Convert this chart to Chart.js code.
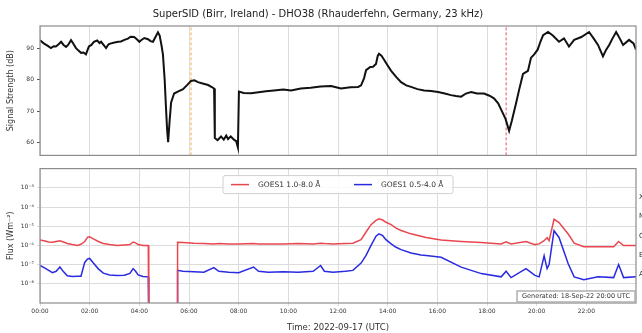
<!DOCTYPE html>
<html lang="en">
<head>
  <meta charset="UTF-8">
  <title>SuperSID Birr - DHO38</title>
  <script src="https://cdn.jsdelivr.net/npm/chart.js"></script>
  <style>
    body { margin: 0; background: #fff; }
    #wrap { position: relative; width: 642px; height: 333px; overflow: hidden; }
    canvas { position: absolute; left: 0; }
  </style>
</head>
<body>
  <div id="wrap">
    <canvas id="sid" width="642" height="162" style="top:0"></canvas>
    <canvas id="goes" width="642" height="171" style="top:162px"></canvas>
  </div>

  <script>
    // signal strength (hours UTC, dB)
    const sidHours = [0.00,0.15,0.30,0.44,0.55,0.64,0.75,0.85,0.95,1.05,1.13,1.25,1.35,1.45,1.55,1.65,1.75,1.85,1.92,1.97,
      2.07,2.17,2.30,2.40,2.46,2.56,2.66,2.76,2.86,3.00,3.15,3.26,3.40,3.54,3.65,3.79,3.90,4.00,4.07,4.20,
      4.35,4.45,4.55,4.65,4.75,4.82,4.90,4.95,5.02,5.07,5.12,5.16,5.22,5.28,5.40,5.55,5.76,5.95,6.08,6.22,
      6.36,6.55,6.77,6.92,7.01,7.04,7.15,7.29,7.40,7.50,7.57,7.68,7.81,7.90,7.97,8.01,8.20,8.50,8.80,9.10,
      9.42,9.80,10.11,10.50,10.90,11.30,11.72,12.12,12.50,12.81,12.93,13.05,13.13,13.30,13.41,13.53,13.60,13.65,13.75,13.85,
      14.00,14.14,14.35,14.54,14.75,14.94,15.20,15.47,15.75,16.03,16.30,16.55,16.75,16.96,17.15,17.36,17.60,17.88,18.10,18.28,
      18.45,18.57,18.75,18.89,19.00,19.17,19.30,19.45,19.65,19.77,19.90,20.04,20.15,20.26,20.46,20.65,20.90,21.10,21.30,21.51,
      21.80,22.11,22.30,22.47,22.67,22.80,22.92,23.05,23.20,23.35,23.48,23.72,23.90,24.00];
    const sidSignal = [92.5,91.5,90.8,90.0,90.6,90.5,91.2,92.0,91.0,90.4,91.0,92.5,91.3,90.0,89.2,88.5,88.6,88.0,89.5,90.5,
      91.0,92.0,92.4,91.6,92.0,91.0,90.0,91.2,91.5,91.8,92.0,92.1,92.6,93.0,93.6,93.5,92.8,92.0,92.5,93.2,
      92.8,92.2,92.0,93.5,95.0,94.0,90.5,88.0,80.0,71.6,64.0,60.2,67.0,72.8,75.6,76.2,77.0,78.5,79.6,79.8,
      79.2,78.8,78.3,77.6,77.2,61.5,60.8,62.0,61.0,62.3,61.2,62.0,61.0,60.5,58.5,76.2,75.8,75.7,76.0,76.3,
      76.6,76.9,76.6,77.2,77.4,77.8,78.0,77.2,77.6,77.7,78.2,80.5,83.0,84.0,84.1,85.0,87.5,88.2,87.6,86.4,
      84.5,82.8,80.8,79.2,78.2,77.7,77.0,76.6,76.4,76.1,75.6,75.1,74.8,74.6,75.6,76.1,75.6,75.6,74.9,74.1,
      72.5,70.5,67.5,63.8,67.0,72.5,77.0,81.8,82.8,86.9,88.0,89.5,92.0,94.1,95.1,94.0,92.0,93.1,90.5,92.6,
      93.5,95.1,93.0,91.0,87.4,89.5,91.0,93.0,95.1,93.0,91.0,92.6,91.5,89.5];
    // sunrise / sunset markers (hours UTC)
    const markerHours = [6.08, 18.77];

    // GOES X-ray flux (hours UTC, W/m^2); null = data gap
    const goesHours = [0.00,0.20,0.35,0.50,0.65,0.80,0.95,1.10,1.30,1.50,1.65,1.80,1.92,2.00,2.15,2.35,2.55,2.80,3.10,3.40,
      3.62,3.75,3.85,3.95,4.15,4.36,4.38,4.40,5.50,5.52,5.54,5.75,6.20,6.60,7.00,7.20,7.60,8.00,8.60,8.80,
      9.20,9.80,10.40,11.00,11.30,11.45,11.80,12.30,12.60,12.93,13.13,13.33,13.53,13.65,13.80,13.93,14.14,14.34,14.54,14.94,
      15.34,15.55,16.15,16.96,17.77,18.57,18.77,18.97,19.57,19.93,20.10,20.30,20.42,20.50,20.70,20.90,21.27,21.51,21.90,22.47,
      23.10,23.30,23.50,24.00];
    const goesLong = [1.9e-6,1.7e-6,1.5e-6,1.45e-6,1.6e-6,1.75e-6,1.5e-6,1.25e-6,1.1e-6,1.0e-6,1.15e-6,1.6e-6,2.7e-6,2.8e-6,2.2e-6,1.6e-6,1.25e-6,1.1e-6,1.0e-6,1.05e-6,
      1.1e-6,1.5e-6,1.35e-6,1.1e-6,1.0e-6,1.0e-6,1e-10,null,null,1e-10,1.45e-6,1.4e-6,1.3e-6,1.25e-6,1.2e-6,1.25e-6,1.2e-6,1.2e-6,1.25e-6,1.2e-6,
      1.2e-6,1.2e-6,1.25e-6,1.2e-6,1.3e-6,1.25e-6,1.2e-6,1.25e-6,1.3e-6,2.0e-6,5.0e-6,1.2e-5,2.0e-5,2.4e-5,2.1e-5,1.6e-5,1.2e-5,8.0e-6,6.0e-6,4.0e-6,
      3.0e-6,2.6e-6,1.9e-6,1.6e-6,1.4e-6,1.2e-6,1.55e-6,1.2e-6,1.6e-6,1.1e-6,1.2e-6,1.75e-6,2.5e-6,1.75e-6,2.3e-5,1.55e-5,3.9e-6,1.3e-6,8.5e-7,8.5e-7,
      8.5e-7,1.6e-6,9.8e-7,9.8e-7];
    const goesShort = [9.0e-8,6.5e-8,5.0e-8,3.8e-8,4.5e-8,7.5e-8,4.2e-8,2.6e-8,2.4e-8,2.45e-8,2.5e-8,1.3e-7,2.0e-7,2.1e-7,1.2e-7,6.0e-8,3.6e-8,2.9e-8,2.7e-8,2.8e-8,
      3.5e-8,6.2e-8,4.5e-8,2.9e-8,2.4e-8,2.3e-8,1e-10,null,null,1e-10,5.0e-8,4.5e-8,4.2e-8,4.0e-8,7.0e-8,4.5e-8,4.0e-8,3.8e-8,7.5e-8,4.5e-8,
      4.0e-8,4.2e-8,4.0e-8,4.5e-8,9.0e-8,4.5e-8,4.0e-8,4.5e-8,5.0e-8,1.2e-7,3.0e-7,1.0e-6,3.0e-6,4.0e-6,3.2e-6,2.0e-6,1.2e-6,8.0e-7,6.0e-7,4.0e-7,
      3.2e-7,3.0e-7,2.4e-7,7.4e-8,3.4e-8,2.3e-8,4.5e-8,2.1e-8,6.2e-8,2.75e-8,2.3e-8,2.9e-7,6.2e-8,1.0e-7,5.8e-6,2.6e-6,1.1e-7,2.3e-8,1.65e-8,2.3e-8,
      2.1e-8,1.0e-7,2.1e-8,2.3e-8];

    // axis ticks
    const hourTicks = [0, 2, 4, 6, 8, 10, 12, 14, 16, 18, 20, 22];
    const dbTicks = [60, 70, 80, 90];
    const fluxTicks = [1e-3, 1e-4, 1e-5, 1e-6, 1e-7, 1e-8];
    // flare classes, written half a decade above each class floor
    const classLetters = ['X', 'M', 'C', 'B', 'A'];
    const classLevels = [3.16e-4, 3.16e-5, 3.16e-6, 3.16e-7, 3.16e-8];

    const FONT = 'DejaVu Sans';
    const TEXT = '#333';

    const toXY = (xs, ys) => xs.map((x, i) => ({ x: x, y: ys[i] }));
    const hourLabel = v => String(v).padStart(2, '0') + ':00';
    const sup = { '-': '⁻', '0': '⁰', '1': '¹', '2': '²', '3': '³', '4': '⁴', '5': '⁵', '6': '⁶', '7': '⁷', '8': '⁸', '9': '⁹' };
    const powLabel = v => '10' + String(Math.round(Math.log10(v))).split('').map(c => sup[c]).join('');

    // frame around the plot area, like matplotlib spines
    const frame = {
      id: 'frame',
      afterDraw(chart) {
        const a = chart.chartArea, ctx = chart.ctx;
        ctx.save();
        ctx.strokeStyle = '#8c8c8c';
        ctx.lineWidth = 1.2;
        ctx.strokeRect(a.left, a.top, a.right - a.left, a.bottom - a.top);
        ctx.restore();
      }
    };

    // top panel: signal strength
    new Chart(document.getElementById('sid'), {
      type: 'line',
      data: {
        datasets: [
          { data: toXY(sidHours, sidSignal), borderColor: '#111', borderWidth: 2, pointRadius: 0 },
          { data: [{ x: markerHours[0], y: 56 }, { x: markerHours[0], y: 97 }], borderColor: '#f3b04a', borderWidth: 1, borderDash: [3, 2], pointRadius: 0 },
          { data: [{ x: markerHours[1], y: 56 }, { x: markerHours[1], y: 97 }], borderColor: '#e8505a', borderWidth: 1, borderDash: [3, 2], pointRadius: 0 }
        ]
      },
      options: {
        responsive: false,
        animation: false,
        layout: { padding: { left: 0, right: 6, top: 0, bottom: 0 } },
        plugins: {
          legend: { display: false },
          tooltip: { enabled: false },
          title: {
            display: true,
            text: 'SuperSID (Birr, Ireland) - DHO38 (Rhauderfehn, Germany, 23 kHz)',
            color: '#222',
            font: { family: FONT, size: 10, weight: 'normal' },
            padding: { top: 8, bottom: 6 }
          }
        },
        scales: {
          x: {
            type: 'linear', min: 0, max: 24,
            afterBuildTicks: s => { s.ticks = hourTicks.map(v => ({ value: v })); },
            afterFit: s => { s.height = 4; },
            ticks: { display: false },
            grid: { color: '#dcdcdc', drawTicks: false },
            border: { display: false }
          },
          y: {
            min: 56, max: 97,
            afterBuildTicks: s => { s.ticks = dbTicks.map(v => ({ value: v })); },
            afterFit: s => { s.width = 40; },
            ticks: { color: TEXT, font: { family: FONT, size: 6 }, padding: 3 },
            grid: { drawOnChartArea: false, tickLength: 3, color: '#555' },
            border: { display: false },
            title: { display: true, text: 'Signal Strength (dB)', color: TEXT, font: { family: FONT, size: 8 }, padding: { top: 6, bottom: 2 } }
          }
        }
      },
      plugins: [frame]
    });

    // legend box, class letters and stamp for the flux panel
    const goesDecor = {
      id: 'goesDecor',
      afterDraw(chart) {
        const a = chart.chartArea, ctx = chart.ctx, y = chart.scales.y;
        ctx.save();
        // legend
        const cx = (a.left + a.right) / 2, top = a.top + 7, h = 18, w = 230;
        ctx.fillStyle = 'rgba(255,255,255,0.85)';
        ctx.strokeStyle = '#d0d0d0';
        ctx.lineWidth = 1;
        ctx.beginPath();
        ctx.roundRect(cx - w / 2, top, w, h, 2);
        ctx.fill();
        ctx.stroke();
        ctx.font = '7.5px "' + FONT + '"';
        ctx.textBaseline = 'middle';
        const ly = top + h / 2;
        let lx = cx - w / 2 + 8;
        chart.data.datasets.forEach(ds => {
          ctx.strokeStyle = ds.borderColor;
          ctx.lineWidth = 1.5;
          ctx.beginPath();
          ctx.moveTo(lx, ly);
          ctx.lineTo(lx + 18, ly);
          ctx.stroke();
          ctx.fillStyle = TEXT;
          ctx.fillText(ds.label, lx + 27, ly);
          lx += 123;
        });
        // flare class letters at the right edge
        ctx.font = '7px "' + FONT + '"';
        ctx.fillStyle = TEXT;
        classLetters.forEach((c, i) => ctx.fillText(c, a.right + 3, y.getPixelForValue(classLevels[i])));
        // generated stamp
        ctx.font = '6.5px "' + FONT + '"';
        const stamp = 'Generated: 18-Sep-22 20:00 UTC';
        const sw = ctx.measureText(stamp).width + 10;
        ctx.fillStyle = '#fff';
        ctx.strokeStyle = '#b0b0b0';
        ctx.fillRect(a.right - sw - 1, a.bottom - 12, sw, 11);
        ctx.strokeRect(a.right - sw - 1, a.bottom - 12, sw, 11);
        ctx.fillStyle = TEXT;
        ctx.fillText(stamp, a.right - sw + 4, a.bottom - 6.5);
        ctx.restore();
      }
    };

    // bottom panel: GOES X-ray flux
    new Chart(document.getElementById('goes'), {
      type: 'line',
      data: {
        datasets: [
          { label: 'GOES1 1.0-8.0 Å', data: toXY(goesHours, goesLong), borderColor: '#e8474f', borderWidth: 1.5, pointRadius: 0, spanGaps: false },
          { label: 'GOES1 0.5-4.0 Å', data: toXY(goesHours, goesShort), borderColor: '#2a2ae0', borderWidth: 1.5, pointRadius: 0, spanGaps: false }
        ]
      },
      options: {
        responsive: false,
        animation: false,
        layout: { padding: { left: 0, right: 6, top: 5, bottom: 0 } },
        plugins: { legend: { display: false }, tooltip: { enabled: false } },
        scales: {
          x: {
            type: 'linear', min: 0, max: 24,
            afterBuildTicks: s => { s.ticks = hourTicks.map(v => ({ value: v })); },
            afterFit: s => { s.height = 30; },
            ticks: { color: TEXT, font: { family: FONT, size: 6 }, padding: 2, maxRotation: 0, callback: v => hourLabel(v) },
            grid: { color: '#dcdcdc', tickLength: 3 },
            border: { display: false },
            title: { display: true, text: 'Time: 2022-09-17 (UTC)', color: TEXT, font: { family: FONT, size: 8.5 }, padding: { top: 2, bottom: 0 } }
          },
          y: {
            type: 'logarithmic', min: 1e-9, max: 1e-2,
            afterBuildTicks: s => { s.ticks = fluxTicks.map(v => ({ value: v })); },
            afterFit: s => { s.width = 40; },
            ticks: { color: TEXT, font: { family: FONT, size: 6 }, padding: 3, callback: v => powLabel(v) },
            grid: { color: '#dcdcdc', tickLength: 3 },
            border: { display: false },
            title: { display: true, text: 'Flux (Wm⁻²)', color: TEXT, font: { family: FONT, size: 8 }, padding: { top: 6, bottom: 2 } }
          }
        }
      },
      plugins: [frame, goesDecor]
    });
  </script>
</body>
</html>
